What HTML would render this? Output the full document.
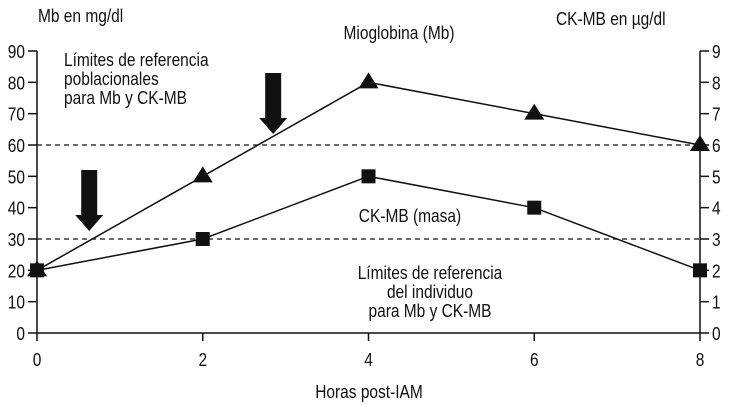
<!DOCTYPE html>
<html><head><meta charset="utf-8"><style>
html,body{margin:0;padding:0;background:#fff;}
svg{display:block;}
text{font-family:"Liberation Sans Narrow","Liberation Sans",sans-serif;fill:#111;font-size:18px;}
</style></head><body>
<svg id="chart" width="730" height="405" xmlns="http://www.w3.org/2000/svg">
<g id="axes"></g><g id="marks"></g>
<text x="38" y="22">Mb en mg/dl</text>
<text x="399" y="39" text-anchor="middle">Mioglobina (Mb)</text>
<text x="556" y="25">CK-MB en µg/dl</text>
<g>
<text x="64" y="66">Límites de referencia</text>
<text x="64" y="85">poblacionales</text>
<text x="64" y="104">para Mb y CK-MB</text></g>
<text x="410" y="222" text-anchor="middle">CK-MB (masa)</text>
<g text-anchor="middle">
<text x="430" y="279">Límites de referencia</text>
<text x="430" y="298">del individuo</text>
<text x="430" y="317">para Mb y CK-MB</text></g>
<text x="369" y="398" text-anchor="middle">Horas post-IAM</text>
</svg>
<script>
const hours=[0,2,4,6,8];
const mioglobina=[20,50,80,70,60];
const ckmb=[2,3,5,4,2];
const leftTicks=[0,10,20,30,40,50,60,70,80,90];
const rightTicks=[0,1,2,3,4,5,6,7,8,9];
const xTicks=[0,2,4,6,8];
const refLines=[30,60];
const arrowHours=[0.63,2.85];
const NS="http://www.w3.org/2000/svg";
const X=h=>37+h*(700-37)/8;
const Y=v=>333-v*(333-51)/90;
const YR=v=>333-v*(333-51)/9;
const axes=document.getElementById('axes'),marks=document.getElementById('marks');
function mk(tag,attrs,parent){const e=document.createElementNS(NS,tag);for(const k in attrs)e.setAttribute(k,attrs[k]);parent.appendChild(e);return e;}
let e;
e=mk('line',{x1:37,y1:51,x2:37,y2:333,stroke:'#111','stroke-width':1.5},axes);


e=mk('line',{x1:700,y1:51,x2:700,y2:333,stroke:'#111','stroke-width':1.5},axes);


e=mk('line',{x1:37,y1:333,x2:700,y2:333,stroke:'#111','stroke-width':1.5},axes);


leftTicks.forEach(v=>{mk('line',{x1:28,x2:37,y1:Y(v),y2:Y(v),stroke:'#111','stroke-width':1.5},axes);
e=mk('text',{x:25,y:Y(v)+7,'text-anchor':'end','font-size':20},axes);e.textContent=v;

});
rightTicks.forEach(v=>{mk('line',{x1:700,x2:709,y1:YR(v),y2:YR(v),stroke:'#111','stroke-width':1.5},axes);
e=mk('text',{x:712,y:YR(v)+7,'font-size':20},axes);e.textContent=v;

});
xTicks.forEach(v=>{mk('line',{x1:X(v),x2:X(v),y1:333,y2:341,stroke:'#111','stroke-width':1.5},axes);
e=mk('text',{x:X(v),y:366,'text-anchor':'middle','font-size':20},axes);e.textContent=v;

});
refLines.forEach(v=>{e=mk('line',{x1:37,x2:700,y1:Y(v),y2:Y(v),stroke:'#111','stroke-width':1.2,'stroke-dasharray':'5,4'},axes);

});
e=mk('polyline',{points:hours.map((h,i)=>X(h)+','+Y(mioglobina[i])).join(' '),fill:'none',stroke:'#111','stroke-width':1.5},marks);


e=mk('polyline',{points:hours.map((h,i)=>X(h)+','+YR(ckmb[i])).join(' '),fill:'none',stroke:'#111','stroke-width':1.5},marks);


hours.forEach((h,i)=>{const x=X(h),y=YR(ckmb[i]);
e=mk('rect',{x:x-7,y:y-7,width:14,height:14,fill:'#111'},marks);

});
hours.forEach((h,i)=>{const x=X(h),y=Y(mioglobina[i]);
e=mk('polygon',{points:`${x},${y-10} ${x-10},${y+6} ${x+10},${y+6}`,fill:'#111'},marks);

});
const arrowTops=[170,73];
arrowHours.forEach((h,i)=>{const x=X(h),t=arrowTops[i];
e=mk('polygon',{points:`${x-8},${t} ${x+8},${t} ${x+8},${t+45} ${x+14},${t+45} ${x},${t+61} ${x-14},${t+45} ${x-8},${t+45}`,fill:'#111'},marks);

});
document.querySelectorAll('text').forEach(t=>{const len=t.getComputedTextLength();
t.setAttribute('textLength',(len*0.86).toFixed(1));
t.setAttribute('lengthAdjust','spacingAndGlyphs');});
</script>
</body></html>
